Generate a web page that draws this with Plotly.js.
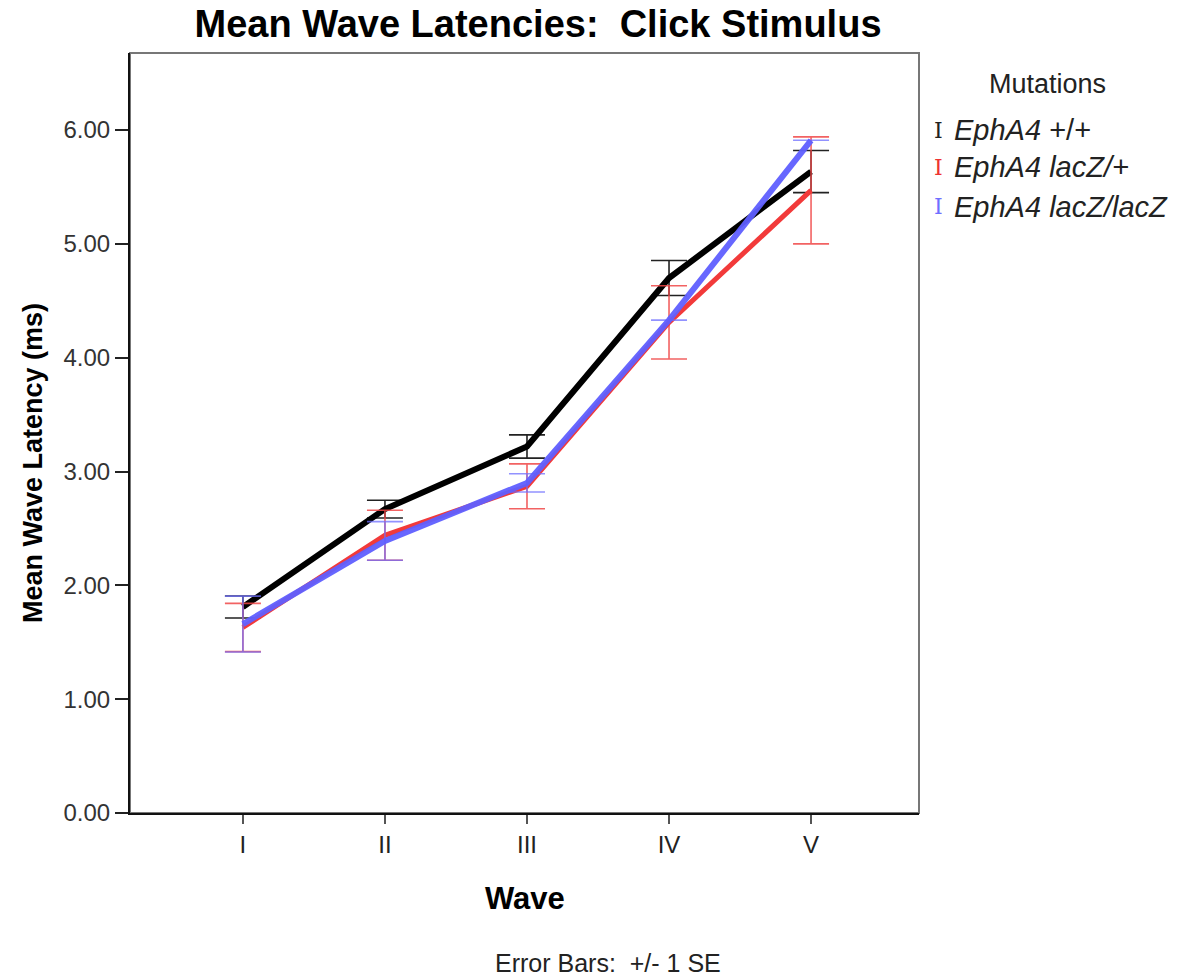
<!DOCTYPE html>
<html>
<head>
<meta charset="utf-8">
<script src="https://cdn.plot.ly/plotly-3.0.1.min.js"></script>
<style>html,body{margin:0;padding:0;background:#fff;}#chart{width:1189px;height:980px;}</style>
</head>
<body>
<div id="chart"></div>
<script>
// Data
const waves = ['I', 'II', 'III', 'IV', 'V'];
const wildMean = [1.81, 2.67, 3.22, 4.70, 5.635];
const wildSE = [0.097, 0.078, 0.102, 0.154, 0.185];
const hetMean = [1.63, 2.44, 2.87, 4.31, 5.47];
const hetSE = [0.212, 0.22, 0.197, 0.322, 0.47];
const homMean = [1.66, 2.39, 2.90, 4.33, 5.91];
const homSE = [0.245, 0.17, 0.08, null, null];
const seriesNames = ['<i>EphA4</i> +/+', '<i>EphA4 lacZ/+</i>', '<i>EphA4 lacZ/lacZ</i>'];

const FONT = 'Liberation Sans, Arial, sans-serif';

function mk(name, y, se, lineColor, errColor, w) {
  return {
    x: waves, y: y, type: 'scatter', mode: 'lines', name: name,
    line: {color: lineColor, width: w},
    error_y: {type: 'data', array: se, symmetric: true, visible: true,
              color: errColor, thickness: 1.6, width: 18},
    showlegend: false, hoverinfo: 'x+y'
  };
}

const traces = [
  mk(seriesNames[0], wildMean, wildSE, '#000000', '#222222', 6),
  mk(seriesNames[1], hetMean, hetSE, '#f23a3a', 'rgba(240,70,70,0.85)', 5),
  mk(seriesNames[2], homMean, homSE, 'rgba(95,95,255,0.95)', 'rgba(110,110,255,0.75)', 6)
];

// plot area in pixels: x 130..919, y 53..813
const PX = (x) => (x - 130) / 789;
const PY = (y) => (813 - y) / 760;

const legendColors = ['#222222', '#ee3333', '#6f6fff'];
const legendY = [130, 167, 207];
const annotations = [
  {text: '<b>Mean Wave Latency (ms)</b>', textangle: -90, xref: 'paper', yref: 'paper',
   x: PX(33), xanchor: 'center', y: PY(463), yanchor: 'middle',
   font: {family: FONT, size: 27, color: '#000'}, showarrow: false},
  {text: '<b>Wave</b>', xref: 'paper', yref: 'paper', x: PX(525), xanchor: 'center',
   y: PY(898), yanchor: 'middle', font: {family: FONT, size: 31, color: '#000'}, showarrow: false},
  {text: 'Error Bars:  +/- 1 SE', xref: 'paper', yref: 'paper', x: PX(608), xanchor: 'center',
   y: PY(963), yanchor: 'middle', font: {family: FONT, size: 25, color: '#222'}, showarrow: false},
  {text: 'Mutations', xref: 'paper', yref: 'paper', x: PX(1047), xanchor: 'center',
   y: PY(84), yanchor: 'middle', font: {family: FONT, size: 27, color: '#222'}, showarrow: false}
];
for (let i = 0; i < 3; i++) {
  annotations.push({text: 'I', xref: 'paper', yref: 'paper', x: PX(938), xanchor: 'center',
    y: PY(legendY[i]), yanchor: 'middle', font: {family: 'DejaVu Serif, serif', size: 22, color: legendColors[i]}, showarrow: false});
  annotations.push({text: seriesNames[i], xref: 'paper', yref: 'paper', x: PX(952), xanchor: 'left',
    y: PY(legendY[i]), yanchor: 'middle', font: {family: FONT, size: 29, color: '#222'}, showarrow: false});
}

const layout = {
  width: 1189, height: 980,
  margin: {l: 130, r: 270, t: 53, b: 167, pad: 0},
  paper_bgcolor: '#fff', plot_bgcolor: '#fff',
  font: {family: FONT, color: '#222'},
  title: {text: '<b>Mean Wave Latencies:  Click Stimulus</b>', font: {family: FONT, size: 38, color: '#000'},
          x: 538/1189, xref: 'container', xanchor: 'center', y: 1 - 24/980, yref: 'container', yanchor: 'middle'},
  xaxis: {type: 'category', categoryorder: 'array', categoryarray: waves,
          range: [-0.795, 4.76], showgrid: false, zeroline: false,
          showline: true, linecolor: '#111', linewidth: 2,
          ticks: 'outside', ticklen: 9, tickwidth: 2, tickcolor: '#555',
          tickfont: {family: FONT, size: 24, color: '#222'}, fixedrange: true},
  yaxis: {range: [0, 6.677], showgrid: false, zeroline: false,
          showline: true, linecolor: '#111', linewidth: 2,
          ticks: 'outside', ticklen: 13, tickwidth: 2, tickcolor: '#222',
          tickvals: [0, 1, 2, 3, 4, 5, 6], tickformat: '.2f',
          tickfont: {family: FONT, size: 24, color: '#333'}, fixedrange: true},
  shapes: [{type: 'rect', xref: 'paper', yref: 'paper', x0: 0, x1: 1, y0: 0, y1: 1,
            line: {color: '#777', width: 2}, fillcolor: 'rgba(0,0,0,0)', layer: 'below'}],
  annotations: annotations,
  showlegend: false
};

Plotly.newPlot('chart', traces, layout, {displayModeBar: false, staticPlot: true});
</script>
</body>
</html>
